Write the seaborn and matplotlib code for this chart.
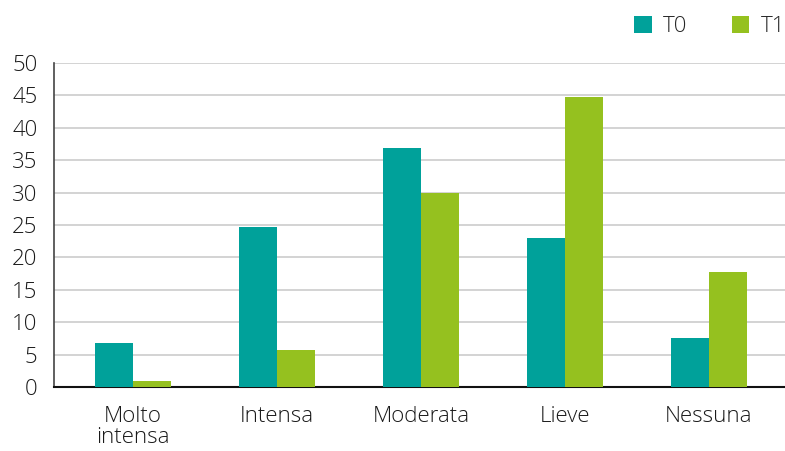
import pandas as pd
import matplotlib.pyplot as plt
import seaborn as sns

categories = ['Molto\nintensa', 'Intensa', 'Moderata', 'Lieve', 'Nessuna']
t0_values = [6.8, 24.7, 36.9, 23.0, 7.6]
t1_values = [0.9, 5.7, 29.9, 44.8, 17.7]
series = ['T0', 'T1']
colors = ['#00A19A', '#95C11F']

df = pd.DataFrame({
    'categoria': categories * 2,
    'valore': t0_values + t1_values,
    'serie': ['T0'] * len(categories) + ['T1'] * len(categories),
})

sns.set_style('white')
plt.rcParams['font.family'] = ['Open Sans', 'DejaVu Sans']
plt.rcParams['font.weight'] = 'light'

fig = plt.figure(figsize=(7.85, 4.51), dpi=100)
ax = fig.add_axes([54 / 785, 1 - 387 / 451, (785 - 54) / 785, (387 - 63) / 451])

sns.barplot(data=df, x='categoria', y='valore', hue='serie', hue_order=series,
            palette=colors, width=0.53, saturation=1, linewidth=0, ax=ax, zorder=3)

ax.set_ylim(0, 50)
ax.set_yticks(range(0, 51, 5))
ax.set_xlim(-0.55, 4.53)
ax.yaxis.grid(True, color='#cccccc', linewidth=1.2, zorder=0)
ax.set_axisbelow(True)
ax.set_xlabel('')
ax.set_ylabel('')
ax.tick_params(axis='both', length=0, labelsize=16, colors='#1a1a1a')
ax.tick_params(axis='x', pad=14)
ax.tick_params(axis='y', pad=12)
for lbl in ax.get_xticklabels():
    lbl.set_linespacing(1.0)
for side in ['top', 'right']:
    ax.spines[side].set_visible(False)
ax.spines['left'].set_color('#444444')
ax.spines['left'].set_linewidth(1.2)
ax.spines['bottom'].set_color('#111111')
ax.spines['bottom'].set_linewidth(1.5)

ax.legend(loc='lower right', bbox_to_anchor=(1.0, 1.08), ncol=2, frameon=False,
          fontsize=16, handlelength=0.8, handleheight=0.8, handletextpad=0.5,
          columnspacing=2.0, borderaxespad=0, borderpad=0)

fig.savefig('out.png', dpi=100)
